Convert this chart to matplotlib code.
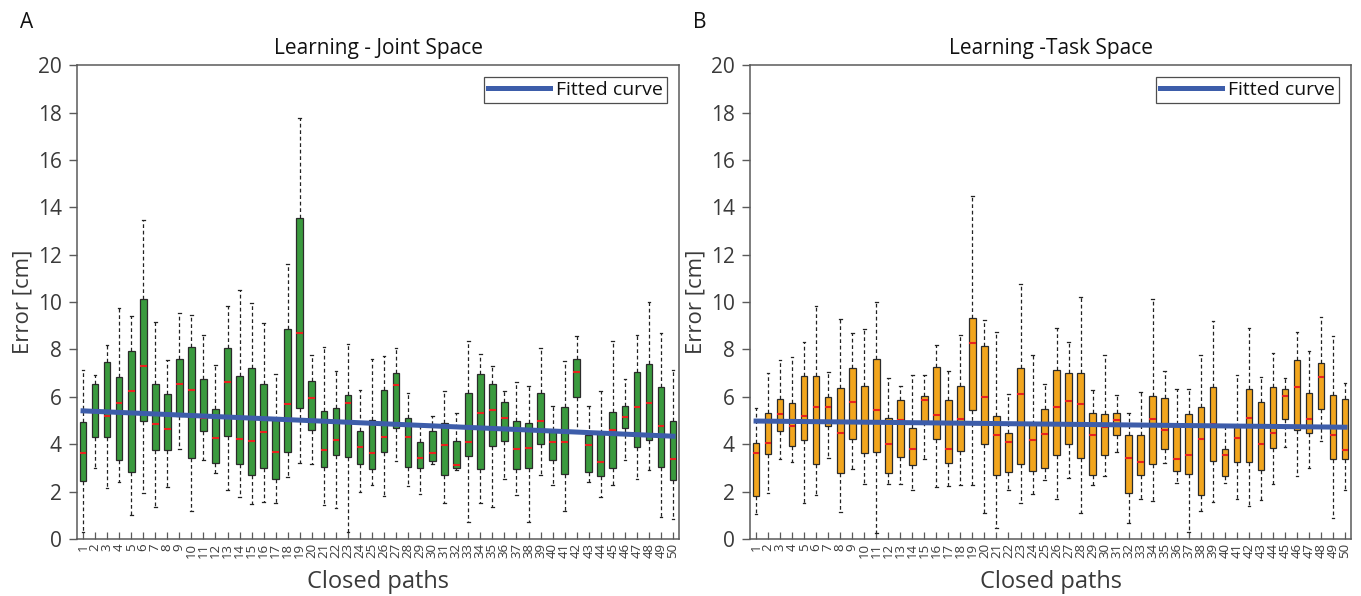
import matplotlib
matplotlib.use("Agg")
import matplotlib.pyplot as plt
import numpy as np

plt.rcParams['font.family'] = ['Open Sans', 'DejaVu Sans']

paths = list(range(1, 51))

# Learning - Joint Space (panel A): whisker low, Q1, median, Q3, whisker high
joint_lo = [0.31, 2.98, 2.16, 2.42, 1.01, 1.93, 1.35, 2.21, 3.82, 1.19,
            3.33, 2.77, 2.07, 1.78, 1.48, 1.55, 1.50, 2.63, 3.22, 3.16,
            1.43, 1.32, 0.28, 2.00, 2.28, 1.81, 3.29, 2.23, 1.90, 3.18,
            1.50, 2.90, 0.73, 1.53, 1.36, 2.52, 1.86, 0.72, 2.70, 2.28,
            1.18, 4.58, 2.39, 1.76, 2.28, 3.33, 2.52, 2.91, 0.93, 0.84]
joint_q1 = [2.45, 4.30, 4.30, 3.33, 2.83, 4.98, 3.75, 3.75, 5.20, 3.40,
            4.58, 3.23, 4.33, 3.15, 2.70, 3.01, 2.52, 3.68, 5.51, 4.62,
            3.05, 3.56, 3.47, 3.15, 2.94, 3.67, 4.69, 3.02, 2.98, 3.28,
            2.71, 2.98, 3.50, 2.95, 3.92, 4.13, 2.97, 2.99, 4.01, 3.32,
            2.74, 5.99, 2.84, 2.66, 2.98, 4.69, 3.87, 4.17, 3.04, 2.49]
joint_med = [3.64, 5.35, 5.19, 5.73, 6.23, 7.29, 4.86, 4.64, 6.56, 6.31,
             5.09, 4.26, 6.61, 4.23, 4.13, 4.51, 3.68, 5.71, 8.70, 5.96,
             3.75, 4.19, 5.73, 3.89, 3.64, 4.30, 6.49, 4.30, 3.44, 3.65,
             3.96, 3.11, 4.08, 5.31, 5.44, 5.12, 3.79, 3.85, 4.98, 4.09,
             4.09, 7.06, 3.96, 3.26, 4.61, 5.17, 5.58, 5.75, 4.78, 3.39]
joint_q3 = [4.93, 6.54, 7.48, 6.82, 7.93, 10.12, 6.54, 6.11, 7.58, 8.11,
            6.77, 5.48, 8.08, 6.90, 7.21, 6.54, 5.02, 8.87, 13.53, 6.68,
            5.41, 5.51, 6.09, 4.55, 5.02, 6.28, 6.99, 5.09, 4.09, 4.58,
            4.88, 4.13, 6.18, 6.97, 6.56, 5.78, 4.98, 4.89, 6.18, 4.60,
            5.57, 7.59, 4.37, 4.46, 5.37, 5.62, 7.07, 7.38, 6.41, 4.98]
joint_hi = [7.15, 6.93, 8.21, 9.77, 9.42, 13.46, 9.16, 7.55, 9.56, 9.46,
            8.60, 7.34, 9.84, 10.53, 9.95, 9.12, 6.97, 11.60, 17.77, 7.77,
            8.11, 7.11, 8.25, 6.28, 7.59, 7.74, 8.08, 6.18, 4.75, 5.20,
            6.24, 5.34, 8.35, 7.80, 7.31, 6.24, 6.62, 6.47, 8.08, 5.62,
            7.53, 8.56, 5.62, 6.24, 8.35, 6.75, 8.60, 9.99, 8.70, 7.13]
joint_fit = [5.41, 4.34]   # fitted curve at path 1 and path 50

# Learning - Task Space (panel B)
task_lo = [1.05, 1.95, 3.36, 3.25, 1.53, 1.84, 3.40, 1.14, 2.94, 2.32,
           0.24, 2.32, 2.32, 2.06, 3.38, 2.21, 2.23, 2.28, 2.28, 1.11,
           0.48, 2.06, 1.50, 1.88, 2.49, 1.71, 2.56, 1.08, 2.28, 2.68,
           3.68, 0.66, 1.67, 1.62, 3.19, 2.37, 0.28, 1.18, 1.57, 2.37,
           1.71, 1.39, 1.64, 2.32, 3.89, 2.65, 2.98, 4.12, 0.90, 2.09]
task_q1 = [1.81, 3.60, 4.58, 3.91, 4.18, 3.18, 4.79, 2.79, 4.21, 3.61,
           3.68, 2.79, 3.47, 3.12, 4.95, 4.21, 3.19, 3.72, 5.44, 4.03,
           2.71, 2.84, 3.17, 2.88, 2.99, 3.53, 3.99, 3.40, 2.71, 3.54,
           4.37, 1.95, 2.70, 3.17, 3.78, 2.88, 2.74, 1.84, 3.31, 2.67,
           3.26, 3.26, 2.91, 3.86, 5.08, 4.59, 4.49, 5.49, 3.36, 3.36]
task_med = [3.65, 4.05, 5.27, 4.75, 5.18, 5.57, 5.58, 4.47, 5.77, 4.90,
            5.44, 4.03, 5.04, 3.82, 5.86, 5.22, 3.82, 5.06, 8.27, 5.98,
            4.41, 4.10, 6.12, 4.17, 4.42, 5.58, 5.83, 5.69, 4.37, 4.73,
            5.01, 3.43, 3.24, 5.06, 4.61, 3.36, 3.54, 4.24, 4.86, 3.54,
            4.27, 5.10, 4.00, 4.49, 6.03, 6.43, 5.08, 6.84, 4.38, 3.75]
task_q3 = [4.05, 5.30, 5.90, 5.75, 6.87, 6.90, 6.00, 6.38, 7.23, 6.45,
           7.60, 5.10, 5.88, 4.70, 6.05, 7.26, 5.86, 6.47, 9.35, 8.13,
           5.18, 4.49, 7.22, 4.86, 5.49, 7.15, 7.01, 7.02, 5.31, 5.28,
           5.31, 4.41, 4.40, 6.03, 5.94, 4.86, 5.28, 5.56, 6.40, 3.79,
           4.72, 6.33, 5.77, 6.40, 6.32, 7.56, 6.18, 7.43, 6.07, 5.93]
task_hi = [5.52, 7.02, 7.56, 7.70, 8.32, 9.84, 7.06, 9.30, 8.68, 8.88,
           9.99, 6.78, 6.46, 6.91, 6.94, 8.19, 7.11, 8.62, 14.49, 9.23,
           8.74, 6.14, 10.76, 7.77, 6.56, 8.90, 8.31, 10.20, 6.29, 7.78,
           6.10, 5.32, 6.22, 10.15, 7.11, 6.33, 6.33, 7.78, 9.19, 4.80,
           6.92, 8.89, 6.83, 7.85, 6.81, 8.75, 7.95, 9.38, 8.58, 6.60]
task_fit = [4.98, 4.72]

text_col = "#3a3a3a"
spine_col = "#5a5a5a"


def panel(ax, lo, q1, med, q3, hi, fit, box_col, title, letter):
    stats = []
    for i in range(len(paths)):
        stats.append({"whislo": lo[i], "q1": q1[i], "med": med[i],
                      "q3": q3[i], "whishi": hi[i], "label": str(paths[i])})
    ax.bxp(stats, positions=paths, widths=0.55, capwidths=0.22,
           showfliers=False, patch_artist=True,
           boxprops=dict(facecolor=box_col, edgecolor="#2b2b2b", linewidth=0.9),
           medianprops=dict(color="#e8231e", linewidth=1.5),
           whiskerprops=dict(color="#222222", linestyle=(0, (3, 2.2)), linewidth=0.9),
           capprops=dict(color="#222222", linewidth=0.9))
    ax.plot([paths[0], paths[-1]], fit, color="#3d5daa", linewidth=3.6,
            label="Fitted curve", zorder=5)

    ax.set_xlim(0.5, 50.5)
    ax.set_ylim(0, 20)
    ax.set_yticks(np.arange(0, 21, 2))
    ax.set_xticks(paths)
    ax.set_xticklabels([str(p) for p in paths], rotation=90, fontsize=9.5,
                       color=text_col)
    ax.tick_params(axis="y", direction="out", length=6, width=1,
                   labelsize=15, colors=spine_col, labelcolor=text_col, pad=5)
    ax.tick_params(axis="x", direction="in", length=5, width=0.9,
                   colors=spine_col, labelcolor=text_col, pad=3)
    for s in ax.spines.values():
        s.set_color(spine_col)
        s.set_linewidth(1.1)

    ax.set_xlabel("Closed paths", fontsize=17, color=text_col, labelpad=8)
    ax.set_ylabel("Error [cm]", fontsize=16, color=text_col, labelpad=3)
    ax.set_title(title, fontsize=15, color="#111111", pad=8)
    ax.text(-0.095, 1.09, letter, transform=ax.transAxes, fontsize=15,
            color="#111111", va="center", ha="left")

    leg = ax.legend(loc="upper right", fontsize=14, frameon=True,
                    fancybox=False, handlelength=3.2, borderpad=0.22,
                    handletextpad=0.3, borderaxespad=0.6)
    leg.get_frame().set_edgecolor("#222222")
    leg.get_frame().set_linewidth(0.9)
    for t in leg.get_texts():
        t.set_color("#111111")


fig = plt.figure(figsize=(13.61, 5.96), dpi=100)
ax1 = fig.add_axes([0.0566, 0.0956, 0.4423, 0.795])
ax2 = fig.add_axes([0.5511, 0.0956, 0.4416, 0.795])

panel(ax1, joint_lo, joint_q1, joint_med, joint_q3, joint_hi, joint_fit,
      "#3a9a3e", "Learning - Joint Space", "A")
panel(ax2, task_lo, task_q1, task_med, task_q3, task_hi, task_fit,
      "#f2a61e", "Learning -Task Space", "B")

fig.savefig("out.png", dpi=100)
